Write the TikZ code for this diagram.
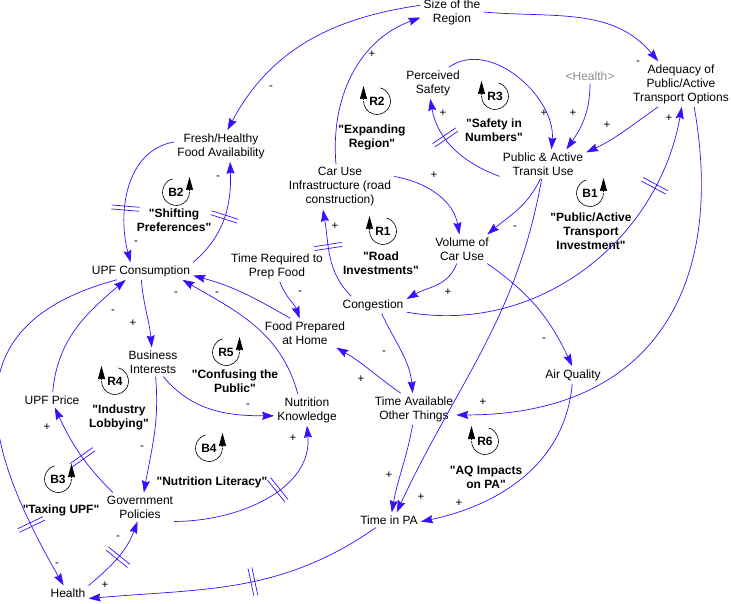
\documentclass[tikz,border=0pt]{standalone}
\usepackage{fontspec}
\setmainfont{Liberation Sans}
\usepackage{tikz}
\usetikzlibrary{arrows.meta,decorations.markings}
\definecolor{LinkBlue}{HTML}{3311FF}
\definecolor{ShadowGray}{HTML}{8C8C8C}

% loop marker, arrow on the left / on the right
\newcommand{\loopleft}[3]{%
  \node[loopid] (#1) at (#2) {#3};
  \draw[loopring] (#1.center) ++(75:13.5pt) arc[start angle=75, end angle=-180, radius=13.5pt];
  \draw[loophead] (#1.center) ++(-13.5pt,2pt) -- ++(0pt,13pt);
}
\newcommand{\loopright}[3]{%
  \node[loopid] (#1) at (#2) {#3};
  \draw[loopring] (#1.center) ++(105:13.5pt) arc[start angle=105, end angle=360, radius=13.5pt];
  \draw[loophead] (#1.center) ++(13.5pt,2pt) -- ++(0pt,13pt);
}
\newcommand{\qq}{\textquotedbl}

\begin{document}
\begin{tikzpicture}[x=1pt, y=-1pt,
  var/.style={align=center, inner sep=3pt, font=\fontsize{12}{14}\selectfont},
  shadowvar/.style={var, text=ShadowGray},
  loopname/.style={align=center, inner sep=1pt, font=\fontsize{12}{14}\selectfont\bfseries},
  loopid/.style={inner sep=0pt, font=\fontsize{12}{14}\selectfont\bfseries},
  loopring/.style={draw=black, line width=0.6pt},
  loophead/.style={draw=black, line width=0.6pt, -{Triangle[length=13pt,width=7pt]}},
  link/.style={draw=LinkBlue, line width=0.7pt, -{Stealth[length=12pt,width=8pt,inset=1.5pt]}},
  pol/.style={inner sep=0pt, font=\fontsize{11.5}{13}\selectfont},
  delay/.style={postaction={decorate, decoration={markings,
      mark=at position #1 with {\draw[draw=LinkBlue, line width=0.7pt, -]
        (-2pt,-14pt) -- (-2pt,14pt) (2pt,-14pt) -- (2pt,14pt);}}}}
]
\useasboundingbox (0,0) rectangle (731,604);

% variables
\node[var] (region) at (452,12) {Size of the\\Region};
\node[var] (adequacy) at (681,84) {Adequacy of\\Public/Active\\Transport Options};
\node[var] (psafety) at (433,83) {Perceived\\Safety};
\node[shadowvar] (healthsh) at (590,76) {\textless Health\textgreater};
\node[var] (transit) at (543,164) {Public \& Active\\Transit Use};
\node[var] (fresh) at (221,146) {Fresh/Healthy\\Food Availability};
\node[var] (carinfra) at (340,187) {Car Use\\Infrastructure (road\\construction)};
\node[var] (volume) at (462,249) {Volume of\\Car Use};
\node[var] (timeprep) at (277,266) {Time Required to\\Prep Food};
\node[var] (upf) at (141,271) {UPF Consumption};
\node[var] (congestion) at (373,305) {Congestion};
\node[var] (foodprep) at (305,333) {Food Prepared\\at Home};
\node[var] (business) at (153,362) {Business\\Interests};
\node[var] (airq) at (573,375) {Air Quality};
\node[var] (nutrition) at (307,410) {Nutrition\\Knowledge};
\node[var] (upfprice) at (52,400) {UPF Price};
\node[var] (timeavail) at (414,409) {Time Available\\Other Things};
\node[var] (gov) at (140,507) {Government\\Policies};
\node[var] (timepa) at (389,520) {Time in PA};
\node[var] (health) at (68,593) {Health};

% loops
\loopleft{r2}{377,101}{R2}
\node[loopname] (r2name) at (372,137) {\qq Expanding\\Region\qq};
\loopleft{r3}{495,96}{R3}
\node[loopname] (r3name) at (494,130) {\qq Safety in\\Numbers\qq};
\loopright{b1}{590,193}{B1}
\node[loopname] (b1name) at (591,231) {\qq Public/Active\\Transport\\Investment\qq};
\loopright{b2}{176,192}{B2}
\node[loopname] (b2name) at (174,220) {\qq Shifting\\Preferences\qq};
\loopleft{r1}{383,231}{R1}
\node[loopname] (r1name) at (381,263) {\qq Road\\Investments\qq};
\loopleft{r4}{115,381}{R4}
\node[loopname] (r4name) at (119,417) {\qq Industry\\Lobbying\qq};
\loopright{r5}{226,352}{R5}
\node[loopname] (r5name) at (235,381) {\qq Confusing the\\Public\qq};
\loopright{b4}{209,448}{B4}
\node[loopname] (b4name) at (212,482) {\qq Nutrition Literacy\qq};
\loopright{b3}{58,479}{B3}
\node[loopname] (b3name) at (61,510) {\qq Taxing UPF\qq};
\loopleft{r6}{485,441}{R6}
\node[loopname] (r6name) at (486,477) {\qq AQ Impacts\\on PA\qq};

% links
\draw[link] (region.168) to[out=188,in=62] (fresh.68);
\draw[link] (carinfra.100) to[out=95,in=200] (region.190);
\draw[link] (region.east) to[out=-5,in=130] (adequacy.135);
\draw[link, delay=0.62] (transit.196) to[out=160,in=-80] (psafety.-100);
\draw[link] (psafety.45) to[out=35,in=85] (transit.60);
\draw[link] (healthsh.south) to[out=-90,in=55] (transit.32);
\draw[link] (adequacy.225) to[out=215,in=25] (transit.15);
\draw[link] (transit.-100) to[out=-115,in=40] (volume.30);
\draw[link] (transit.-95) to[out=-100,in=65] (timepa.45);
\draw[link] (carinfra.11) to[out=-10,in=100] (volume.100);
\draw[link, delay=0.6] (congestion.158) to[out=135,in=-80] (carinfra.-127);
\draw[link] (volume.-110) to[out=-110,in=30] (congestion.10);
\draw[link, delay=0.78] (congestion.-12) to[out=-10,in=-100] (adequacy.-88);
\draw[link] (adequacy.-60) to[out=-80,in=0,looseness=1.25] (timeavail.-8);
\draw[link] (volume.-30) to[out=-35,in=115] (airq.95);
\draw[link] (airq.-95) to[out=-95,in=12] (timepa.-3);
\draw[link] (congestion.-45) to[out=-65,in=95] (timeavail.95);
\draw[link] (timeavail.130) to[out=145,in=-30] (foodprep.-25);
\draw[link] (timeavail.-95) to[out=-100,in=80] (timepa.70);
\draw[link] (timeprep.-80) to[out=-70,in=110] (foodprep.110);
\draw[link] (foodprep.135) to[out=150,in=-15] (upf.-5);
\draw[link] (nutrition.120) to[out=105,in=-30] (upf.-12);
\draw[link, delay=0.5] (upf.north east) to[out=40,in=-88] (fresh.-60);
\draw[link, delay=0.62] (fresh.175) to[out=190,in=105] (upf.140);
\draw[link] (upf.-88) to[out=-85,in=95] (business.95);
\draw[link] (business.-55) to[out=-50,in=180] (nutrition.190);
\draw[link] (business.-80) to[out=-85,in=80] (gov.75);
\draw[link, delay=0.45] (gov.152) to[out=135,in=-65] (upfprice.-70);
\draw[link] (upfprice.85) to[out=85,in=-140] (upf.-150);
\draw[link, delay=0.82] (upf.-160) to[out=195,in=120,looseness=1.4] (health.120);
\draw[link, delay=0.5] (health.20) to[out=40,in=-110] (gov.-100);
\draw[link, delay=0.45] (timepa.-150) to[out=-145,in=5] (health.-15);
\draw[link, delay=0.6] (gov.-23) to[out=0,in=-85] (nutrition.-90);

% polarities
\node[pol] (s1) at (271,88) {-};
\node[pol] (s2) at (372,54) {+};
\node[pol] (s3) at (638,63) {-};
\node[pol] (s4) at (443,113) {+};
\node[pol] (s5) at (544,113) {+};
\node[pol] (s6) at (573,113) {+};
\node[pol] (s7) at (607,125) {+};
\node[pol] (s8) at (515,228) {-};
\node[pol] (s9) at (421,497) {+};
\node[pol] (s10) at (434,175) {+};
\node[pol] (s11) at (335,226) {+};
\node[pol] (s12) at (448,292) {+};
\node[pol] (s13) at (669,118) {+};
\node[pol] (s14) at (483,402) {+};
\node[pol] (s15) at (544,340) {-};
\node[pol] (s16) at (459,503) {+};
\node[pol] (s17) at (384,353) {-};
\node[pol] (s18) at (361,379) {+};
\node[pol] (s19) at (389,475) {+};
\node[pol] (s20) at (300,293) {-};
\node[pol] (s21) at (217,294) {-};
\node[pol] (s22) at (176,294) {-};
\node[pol] (s23) at (218,178) {-};
\node[pol] (s24) at (136,243) {-};
\node[pol] (s25) at (133,323) {+};
\node[pol] (s26) at (248,406) {-};
\node[pol] (s27) at (142,448) {-};
\node[pol] (s28) at (47,427) {+};
\node[pol] (s29) at (113,312) {-};
\node[pol] (s30) at (57,565) {-};
\node[pol] (s31) at (118,538) {-};
\node[pol] (s32) at (105,585) {+};
\node[pol] (s33) at (293,438) {+};
\end{tikzpicture}
\end{document}
